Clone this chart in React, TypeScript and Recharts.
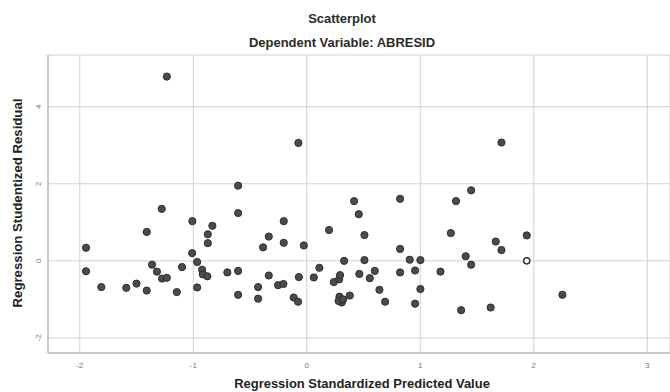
import React from 'react';
import { CartesianGrid, Scatter, ScatterChart, XAxis, YAxis } from 'recharts';

// predicted value (x) and studentized residual (y) of each case
const predicted = [
  -1.233, -0.074, -0.605, -0.605, -1.278, -1.008, -0.832, -0.872, -0.872, -1.41,
  -1.945, -1.945, -1.81, -1.59, -1.5, -1.41, -1.363, -1.32, -1.275, -1.233,
  -1.145, -1.099, -1.01, -0.966, -0.922, -0.916, -0.876, -0.966, -0.7, -0.605,
  -0.605, -0.429, -0.429, -0.385, -0.335, -0.203, -0.203, -0.335, -0.253, -0.206,
  -0.115, -0.077, -0.07, -0.026, 0.062, 0.111, 0.196, 0.238, 0.285, 0.293,
  0.288, 0.308, 0.28, 0.32, 0.379, 0.329, 0.417, 0.458, 0.508, 0.508,
  0.463, 0.599, 0.555, 0.64, 0.69, 0.822, 0.822, 0.822, 0.907, 1.001,
  0.954, 1.001, 0.954, 1.178, 1.269, 1.315, 1.448, 1.4, 1.448, 1.36,
  1.62, 1.665, 1.715, 1.715, 1.938, 2.252,
];
const residual = [
  4.78, 3.06, 1.95, 1.24, 1.35, 1.03, 0.91, 0.69, 0.46, 0.75,
  0.34, -0.27, -0.68, -0.7, -0.59, -0.77, -0.1, -0.28, -0.46, -0.44,
  -0.81, -0.16, 0.2, -0.03, -0.23, -0.35, -0.4, -0.69, -0.3, -0.26,
  -0.88, -0.68, -0.98, 0.35, 0.63, 1.03, 0.47, -0.38, -0.63, -0.6,
  -0.95, -1.06, -0.42, 0.4, -0.43, -0.18, 0.8, -0.55, -0.48, -0.37,
  -0.93, -1.08, -1.04, -1.0, -0.9, 0.0, 1.55, 1.21, 0.67, 0.02,
  -0.34, -0.26, -0.45, -0.75, -1.06, 1.61, 0.31, -0.3, 0.03, 0.02,
  -0.25, -0.73, -1.11, -0.28, 0.72, 1.55, 1.83, 0.12, -0.1, -1.28,
  -1.21, 0.5, 0.28, 3.07, 0.66, -0.88,
];
// the one case drawn as an open marker
const openX = [1.938];
const openY = [0.0];

const xTicks = [-2, -1, 0, 1, 2, 3];
const yTicks = [-2, 0, 2, 4];

const points = predicted.map((x, i) => ({ x, y: residual[i] }));
const openPoints = openX.map((x, i) => ({ x, y: openY[i] }));

const font = '"Liberation Sans", Arial, sans-serif';

const Dot = (props: any) => (
  <circle cx={props.cx} cy={props.cy} r={3.6} fill="#4b4b4b" stroke="#2e2e2e" strokeWidth={1} />
);
const OpenDot = (props: any) => (
  <circle cx={props.cx} cy={props.cy} r={3.1} fill="#fff" stroke="#333" strokeWidth={1.5} />
);

const XTick = ({ x, y, payload }: any) => (
  <text x={x} y={y + 7} textAnchor="middle" fontSize={8} fill="#777" fontFamily={font}>
    {payload.value}
  </text>
);
const YTick = ({ x, y, payload }: any) => (
  <text
    x={x + 1}
    y={y}
    transform={`rotate(-90 ${x + 1} ${y})`}
    textAnchor="middle"
    fontSize={8}
    fill="#777"
    fontFamily={font}
  >
    {payload.value}
  </text>
);

const titleStyle: React.CSSProperties = {
  position: 'absolute',
  left: 342,
  transform: 'translateX(-50%) scaleX(1.08)',
  whiteSpace: 'nowrap',
  fontSize: 12,
  fontWeight: 'bold',
  color: '#2a2a2a',
};

export default function App() {
  return (
    <div style={{ position: 'absolute', left: 0, top: 0, width: 670, height: 392, background: '#fff', fontFamily: font }}>
      <div style={{ ...titleStyle, top: 12 }}>Scatterplot</div>
      <div style={{ ...titleStyle, top: 36 }}>Dependent Variable: ABRESID</div>
      <div
        style={{
          position: 'absolute',
          left: 17,
          top: 203,
          transform: 'translate(-50%, -50%) rotate(-90deg)',
          whiteSpace: 'nowrap',
          fontSize: 13.2,
          fontWeight: 'bold',
          color: '#222',
        }}
      >
        Regression Studentized Residual
      </div>
      <div
        style={{
          position: 'absolute',
          left: 362,
          top: 377,
          transform: 'translateX(-50%) scaleX(1.08)',
          whiteSpace: 'nowrap',
          fontSize: 12,
          fontWeight: 'bold',
          color: '#222',
        }}
      >
        Regression Standardized Predicted Value
      </div>
      <ScatterChart width={670} height={392} margin={{ top: 55, right: 0, bottom: 0, left: 0 }}>
        <CartesianGrid stroke="#d2d2d2" />
        <XAxis
          type="number"
          dataKey="x"
          domain={[-2.28, 3.2]}
          ticks={xTicks}
          allowDataOverflow
          height={39}
          tick={<XTick />}
          tickLine={false}
          axisLine={{ stroke: '#aaa' }}
        />
        <YAxis
          type="number"
          dataKey="y"
          domain={[-2.39, 5.34]}
          ticks={yTicks}
          allowDataOverflow
          width={48}
          tick={<YTick />}
          tickLine={false}
          axisLine={{ stroke: '#aaa' }}
        />
        <Scatter data={points} shape={<Dot />} isAnimationActive={false} />
        <Scatter data={openPoints} shape={<OpenDot />} isAnimationActive={false} />
      </ScatterChart>
    </div>
  );
}
